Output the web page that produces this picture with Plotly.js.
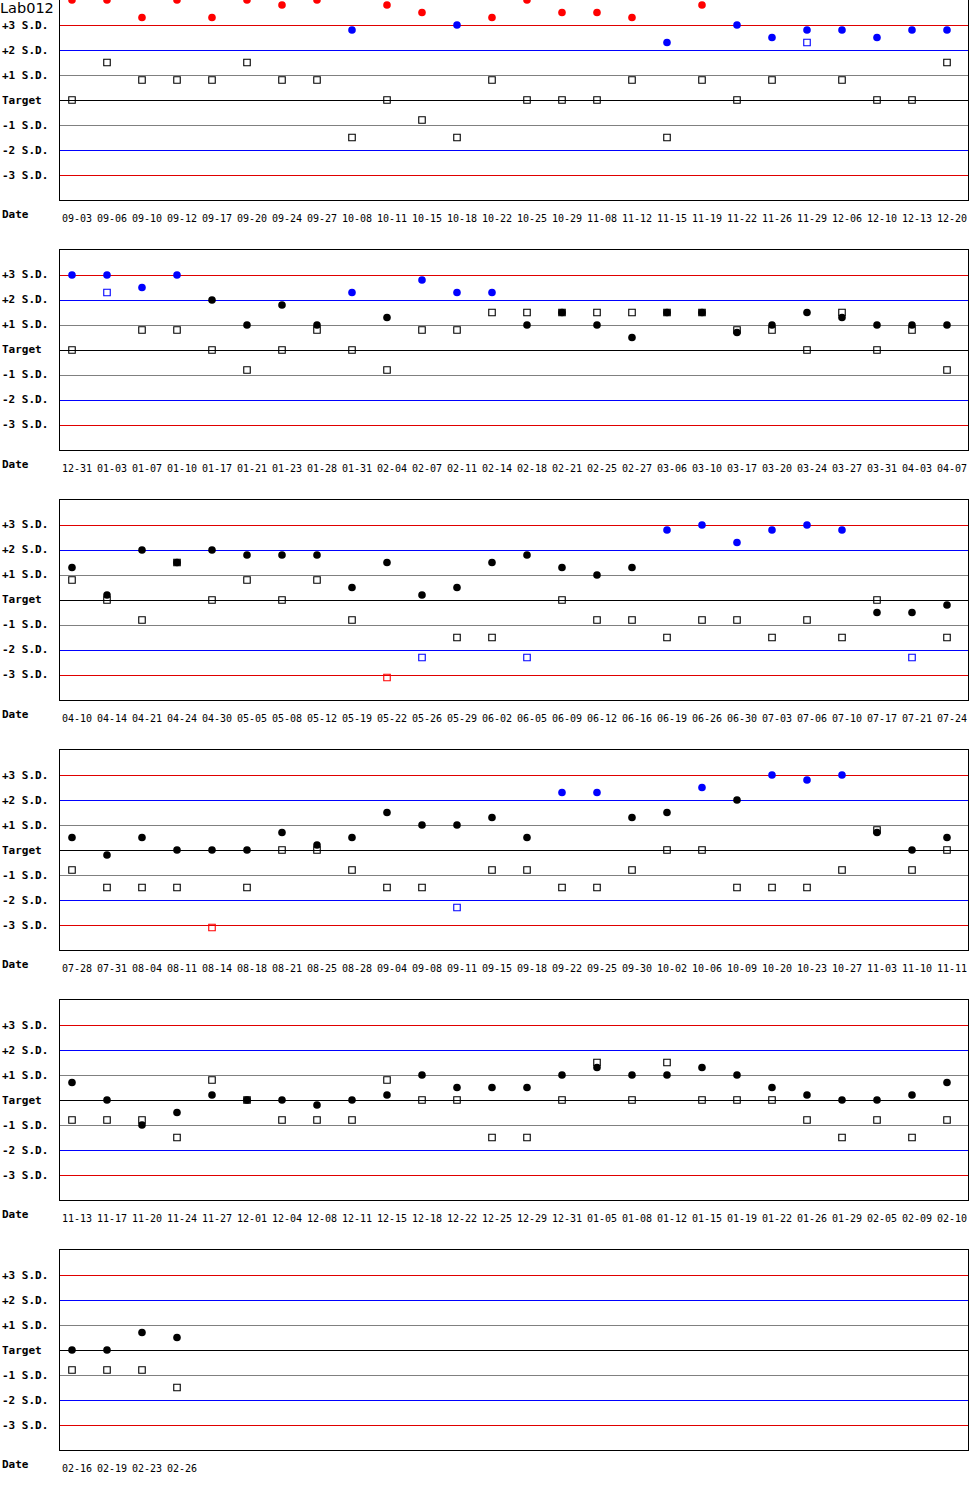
<!DOCTYPE html>
<html>
<head>
<meta charset="utf-8">
<script src="https://cdn.plot.ly/plotly-3.0.1.min.js"></script>
<style>
  html, body { margin: 0; padding: 0; background: #fff; }
  #chart { width: 970px; height: 1500px; }
  #chart .shapelayer path { shape-rendering: crispEdges !important; }
</style>
</head>
<body>
<div id="chart"></div>
<script>
// values are in S.D. units from target
const dates1 = ['09-03', '09-06', '09-10', '09-12', '09-17', '09-20', '09-24', '09-27', '10-08', '10-11', '10-15', '10-18', '10-22',
  '10-25', '10-29', '11-08', '11-12', '11-15', '11-19', '11-22', '11-26', '11-29', '12-06', '12-10', '12-13', '12-20'];
const circles1 = [4.0, 4.0, 3.3, 4.0, 3.3, 4.0, 3.8, 4.0, 2.8, 3.8, 3.5, 3.0, 3.3,
  4.0, 3.5, 3.5, 3.3, 2.3, 3.8, 3.0, 2.5, 2.8, 2.8, 2.5, 2.8, 2.8];
const squares1 = [0, 1.5, 0.8, 0.8, 0.8, 1.5, 0.8, 0.8, -1.5, 0, -0.8, -1.5, 0.8,
  0, 0, 0, 0.8, -1.5, 0.8, 0, 0.8, 2.3, 0.8, 0, 0, 1.5];

const dates2 = ['12-31', '01-03', '01-07', '01-10', '01-17', '01-21', '01-23', '01-28', '01-31', '02-04', '02-07', '02-11', '02-14',
  '02-18', '02-21', '02-25', '02-27', '03-06', '03-10', '03-17', '03-20', '03-24', '03-27', '03-31', '04-03', '04-07'];
const circles2 = [3.0, 3.0, 2.5, 3.0, 2.0, 1.0, 1.8, 1.0, 2.3, 1.3, 2.8, 2.3, 2.3,
  1.0, 1.5, 1.0, 0.5, 1.5, 1.5, 0.7, 1.0, 1.5, 1.3, 1.0, 1.0, 1.0];
const squares2 = [0, 2.3, 0.8, 0.8, 0, -0.8, 0, 0.8, 0, -0.8, 0.8, 0.8, 1.5,
  1.5, 1.5, 1.5, 1.5, 1.5, 1.5, 0.8, 0.8, 0, 1.5, 0, 0.8, -0.8];

const dates3 = ['04-10', '04-14', '04-21', '04-24', '04-30', '05-05', '05-08', '05-12', '05-19', '05-22', '05-26', '05-29', '06-02',
  '06-05', '06-09', '06-12', '06-16', '06-19', '06-26', '06-30', '07-03', '07-06', '07-10', '07-17', '07-21', '07-24'];
const circles3 = [1.3, 0.2, 2.0, 1.5, 2.0, 1.8, 1.8, 1.8, 0.5, 1.5, 0.2, 0.5, 1.5,
  1.8, 1.3, 1.0, 1.3, 2.8, 3.0, 2.3, 2.8, 3.0, 2.8, -0.5, -0.5, -0.2];
const squares3 = [0.8, 0, -0.8, 1.5, 0, 0.8, 0, 0.8, -0.8, -3.1, -2.3, -1.5, -1.5,
  -2.3, 0, -0.8, -0.8, -1.5, -0.8, -0.8, -1.5, -0.8, -1.5, 0, -2.3, -1.5];

const dates4 = ['07-28', '07-31', '08-04', '08-11', '08-14', '08-18', '08-21', '08-25', '08-28', '09-04', '09-08', '09-11', '09-15',
  '09-18', '09-22', '09-25', '09-30', '10-02', '10-06', '10-09', '10-20', '10-23', '10-27', '11-03', '11-10', '11-11'];
const circles4 = [0.5, -0.2, 0.5, 0, 0, 0, 0.7, 0.2, 0.5, 1.5, 1.0, 1.0, 1.3,
  0.5, 2.3, 2.3, 1.3, 1.5, 2.5, 2.0, 3.0, 2.8, 3.0, 0.7, 0, 0.5];
const squares4 = [-0.8, -1.5, -1.5, -1.5, -3.1, -1.5, 0, 0, -0.8, -1.5, -1.5, -2.3, -0.8,
  -0.8, -1.5, -1.5, -0.8, 0, 0, -1.5, -1.5, -1.5, -0.8, 0.8, -0.8, 0];

const dates5 = ['11-13', '11-17', '11-20', '11-24', '11-27', '12-01', '12-04', '12-08', '12-11', '12-15', '12-18', '12-22', '12-25',
  '12-29', '12-31', '01-05', '01-08', '01-12', '01-15', '01-19', '01-22', '01-26', '01-29', '02-05', '02-09', '02-10'];
const circles5 = [0.7, 0, -1.0, -0.5, 0.2, 0, 0, -0.2, 0, 0.2, 1.0, 0.5, 0.5,
  0.5, 1.0, 1.3, 1.0, 1.0, 1.3, 1.0, 0.5, 0.2, 0, 0, 0.2, 0.7];
const squares5 = [-0.8, -0.8, -0.8, -1.5, 0.8, 0, -0.8, -0.8, -0.8, 0.8, 0, 0, -1.5,
  -1.5, 0, 1.5, 0, 1.5, 0, 0, 0, -0.8, -1.5, -0.8, -1.5, -0.8];

const dates6 = ['02-16', '02-19', '02-23', '02-26'];
const circles6 = [0, 0, 0.7, 0.5];
const squares6 = [-0.8, -0.8, -0.8, -1.5];

const sdLevels = [3, 2, 1, 0, -1, -2, -3];
const sdLabels = ['+3 S.D.', '+2 S.D.', '+1 S.D.', 'Target', '-1 S.D.', '-2 S.D.', '-3 S.D.'];

const panels = [
  [dates1, circles1, squares1],
  [dates2, circles2, squares2],
  [dates3, circles3, squares3],
  [dates4, circles4, squares4],
  [dates5, circles5, squares5],
  [dates6, circles6, squares6]
];

const W = 970, H = 1500, LEFT = 60, RIGHT = 2;
const PANEL_STEP = 250, PANEL_H = 200;
const SLOTS = 26;

function lineColor(level) {
  const a = Math.abs(level);
  if (a === 3) return '#e00000';
  if (a === 2) return '#0000ff';
  if (a === 1) return '#808080';
  return '#000000';
}

function pointColor(v) {
  const a = Math.abs(v);
  if (a > 3) return '#ff0000';
  if (a > 2) return '#0000ff';
  return '#000000';
}

const traces = [];
const shapes = [];
const annotations = [];
const layout = {
  width: W,
  height: H,
  paper_bgcolor: '#ffffff',
  plot_bgcolor: '#ffffff',
  showlegend: false,
  margin: { l: LEFT, r: RIGHT, t: 0, b: 0, pad: 0 },
  title: {
    text: 'Lab012',
    xref: 'container',
    yref: 'container',
    x: 0,
    xanchor: 'left',
    y: 1 - 7.5 / H,
    yanchor: 'middle',
    font: { family: 'DejaVu Sans', size: 14.5, color: '#000' }
  }
};

panels.forEach(([dates, circles, squares], i) => {
  const n = i + 1;
  const sfx = n === 1 ? '' : String(n);
  const xr = 'x' + sfx, yr = 'y' + sfx;
  const idx = dates.map((_, j) => j);
  const top = i * PANEL_STEP;

  traces.push({
    x: idx, y: squares, xaxis: xr, yaxis: yr,
    type: 'scatter', mode: 'markers',
    marker: {
      symbol: 'square-open', size: 6.5,
      color: squares.map(pointColor),
      line: { width: 1.1, color: squares.map(pointColor) }
    },
    hoverinfo: 'skip'
  });
  traces.push({
    x: idx, y: circles, xaxis: xr, yaxis: yr,
    type: 'scatter', mode: 'markers',
    marker: { symbol: 'circle', size: 7.6, color: circles.map(pointColor), line: { width: 0 } },
    hoverinfo: 'skip'
  });

  layout['xaxis' + sfx] = {
    domain: [0, 1],
    anchor: yr,
    range: [-12 / 35, SLOTS - 1 + 21 / 35],
    tickvals: idx,
    ticktext: dates,
    ticks: '',
    ticklabelstandoff: 9,
    ticklabelshift: 5,
    tickfont: { family: 'DejaVu Sans Mono', size: 10, color: '#000' },
    showgrid: false,
    zeroline: false,
    showline: true,
    mirror: true,
    linecolor: '#000',
    linewidth: 1,
    fixedrange: true
  };
  layout['yaxis' + sfx] = {
    domain: [1 - (top + PANEL_H) / H, 1 - top / H],
    anchor: xr,
    range: [-4, 4],
    showticklabels: false,
    ticks: '',
    showgrid: false,
    zeroline: false,
    showline: true,
    mirror: true,
    linecolor: '#000',
    linewidth: 1,
    fixedrange: true
  };

  sdLevels.forEach((level, k) => {
    shapes.push({
      type: 'line', layer: 'below',
      xref: xr + ' domain', x0: 0, x1: 1,
      yref: yr, y0: level, y1: level,
      line: { color: lineColor(level), width: 1 }
    });
    annotations.push({
      text: sdLabels[k],
      xref: 'paper', x: -LEFT / (W - LEFT - RIGHT), xanchor: 'left',
      yref: yr, y: level, yanchor: 'middle',
      showarrow: false,
      font: { family: 'DejaVu Sans Mono', size: 11, color: '#000', weight: 'bold' }
    });
  });

  annotations.push({
    text: 'Date',
    xref: 'paper', x: -LEFT / (W - LEFT - RIGHT), xanchor: 'left',
    yref: yr + ' domain', y: -14.5 / PANEL_H, yanchor: 'middle',
    showarrow: false,
    font: { family: 'DejaVu Sans Mono', size: 11, color: '#000', weight: 'bold' }
  });
});

layout.shapes = shapes;
layout.annotations = annotations;

Plotly.newPlot('chart', traces, layout, { displayModeBar: false, staticPlot: true });
</script>
</body>
</html>
